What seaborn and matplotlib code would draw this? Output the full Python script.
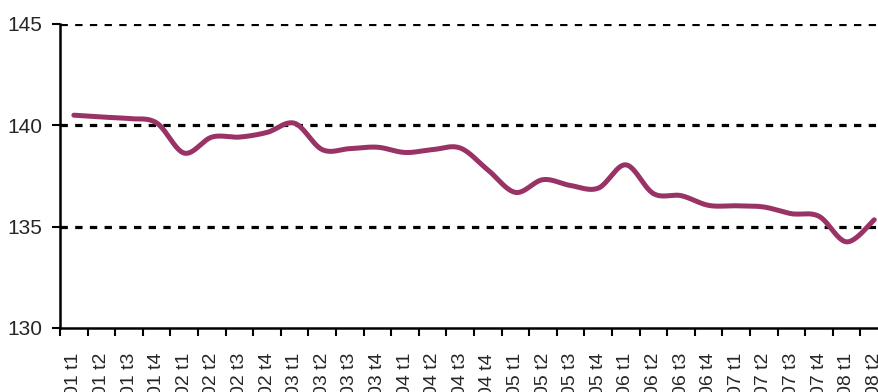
import numpy as np
import pandas as pd
import matplotlib
matplotlib.use("Agg")
import matplotlib.pyplot as plt
import seaborn as sns

# Quarterly series, 2001 Q1 to 2008 Q2
quarters = [
    "01 t1", "01 t2", "01 t3", "01 t4",
    "02 t1", "02 t2", "02 t3", "02 t4",
    "03 t1", "03 t2", "03 t3", "03 t4",
    "04 t1", "04 t2", "04 t3", "04 t4",
    "05 t1", "05 t2", "05 t3", "05 t4",
    "06 t1", "06 t2", "06 t3", "06 t4",
    "07 t1", "07 t2", "07 t3", "07 t4",
    "08 t1", "08 t2",
]
values = [
    140.50, 140.41, 140.33, 140.12,
    138.63, 139.42, 139.42, 139.65,
    140.10, 138.80, 138.85, 138.92,
    138.66, 138.80, 138.88, 137.80,
    136.69, 137.32, 137.03, 136.90,
    138.05, 136.63, 136.53, 136.05,
    136.03, 135.97, 135.64, 135.51,
    134.25, 135.34,
]
y_ticks = [130, 135, 140, 145]
grid_levels = [135, 140, 145]


def smooth_curve(x, y, steps=24):
    """Bezier smoothing through every point (control points from neighbours)."""
    x = np.asarray(x, float)
    y = np.asarray(y, float)
    px = np.concatenate([[x[0]], x, [x[-1]]])
    py = np.concatenate([[y[0]], y, [y[-1]]])
    xs, ys = [], []
    t = np.linspace(0, 1, steps, endpoint=False)
    for i in range(1, len(px) - 2):
        p0x, p0y = px[i], py[i]
        p3x, p3y = px[i + 1], py[i + 1]
        c1x = p0x + (px[i + 1] - px[i - 1]) / 6
        c1y = p0y + (py[i + 1] - py[i - 1]) / 6
        c2x = p3x - (px[i + 2] - px[i]) / 6
        c2y = p3y - (py[i + 2] - py[i]) / 6
        b0 = (1 - t) ** 3
        b1 = 3 * (1 - t) ** 2 * t
        b2 = 3 * (1 - t) * t ** 2
        b3 = t ** 3
        xs.append(b0 * p0x + b1 * c1x + b2 * c2x + b3 * p3x)
        ys.append(b0 * p0y + b1 * c1y + b2 * c2y + b3 * p3y)
    xs.append([x[-1]])
    ys.append([y[-1]])
    return np.concatenate(xs), np.concatenate(ys)


sns.set_style("white")
plt.rcParams["font.family"] = ["Liberation Sans", "DejaVu Sans"]

fig = plt.figure(figsize=(8.79, 3.92), dpi=100)
# Plot area runs slightly past the right edge of the canvas
ax = fig.add_axes([0.0683, 0.1633, 0.942, 0.7755])

pos = np.arange(len(quarters))
sx, sy = smooth_curve(pos, values)
curve = pd.DataFrame({"pos": sx, "value": sy})

for lvl in grid_levels:
    ax.axhline(lvl, color="black", lw=2.3, linestyle=(0, (2.3, 2.3)),
               zorder=1)

sns.lineplot(data=curve, x="pos", y="value", ax=ax, color="#993366",
             linewidth=3.6, sort=False, zorder=3, solid_capstyle="round")

ax.set_xlim(-0.5, len(quarters) - 0.5)
ax.set_ylim(130, 145)
ax.set_yticks(y_ticks)
ax.set_yticklabels([str(v) for v in y_ticks], fontsize=15)

# Category boundaries carry the tick marks, labels sit at the centres
ax.set_xticks(np.arange(-0.5, len(quarters), 1.0))
ax.set_xticklabels([])
ax.set_xticks(pos, minor=True)
ax.set_xticklabels(quarters, minor=True, rotation=90, fontsize=14,
                   ha="center", va="top")
ax.tick_params(axis="x", which="minor", length=0, pad=18)
ax.tick_params(axis="x", which="major", length=6, width=1.5, direction="out",
               color="black", bottom=True)
ax.tick_params(axis="y", which="major", length=6, width=1.5, direction="out",
               color="black", left=True, pad=7)

ax.set_xlabel("")
ax.set_ylabel("")
for side in ("top", "right"):
    ax.spines[side].set_visible(False)
for side in ("left", "bottom"):
    ax.spines[side].set_color("black")
    ax.spines[side].set_linewidth(1.8)

fig.savefig("out.png", dpi=100)
